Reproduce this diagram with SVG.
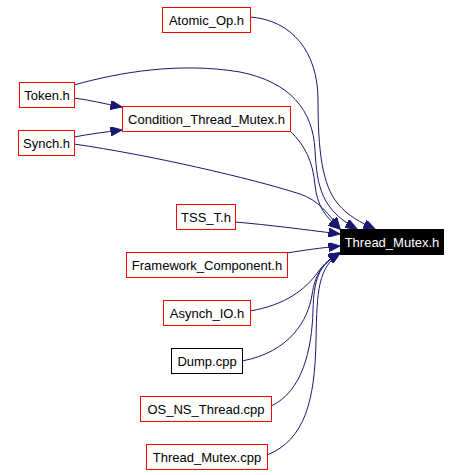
<svg xmlns="http://www.w3.org/2000/svg" width="462" height="475" viewBox="0 0 462 475">
<style>
.n rect{fill:#fff;stroke:#ff0000;stroke-width:1}
.n text{font-family:"Liberation Sans",Arial,sans-serif;font-size:13px;fill:#000;text-anchor:middle}
#n_dump rect{stroke:#000}
#n_root rect{fill:#000;stroke:#000}
#n_root text{fill:#fff}
#edges path{fill:none;stroke:#191970;stroke-width:1;marker-end:url(#ah)}
</style>
<defs>
<marker id="ah" markerUnits="userSpaceOnUse" viewBox="0 0 10 8" refX="10" refY="4" markerWidth="12" markerHeight="9" orient="auto">
<path d="M0,0 L10,4 L0,8 z" fill="#191970" stroke="#191970"/>
</marker>
</defs>
<rect width="462" height="475" fill="#fff"/>
<g id="edges">
<path d="M250,17 C292,20 318,52 318,100 C318,150 322,185 338,204 C348,216 360,222 375,229"/>
<path d="M74,85 C120,72 180,62 240,72 C290,82 313,110 315,150 C317,188 322,210 357,229"/>
<path d="M74,98 C90,100 105,104 122,107"/>
<path d="M74,137 C90,134 105,132 122,130"/>
<path d="M290,131 C305,145 313,162 315,185 C317,205 325,217 340,229"/>
<path d="M74,144 C150,155 250,178 300,194 C318,200 328,213 340,229"/>
<path d="M235,222 C270,225 300,229 340,234"/>
<path d="M287,253 C305,250 320,248 340,246"/>
<path d="M250,311 C285,305 305,290 318,272 C324,264 330,258 340,253"/>
<path d="M242,361 C290,352 308,320 312,295 C315,275 322,263 340,253"/>
<path d="M271,406 C302,392 312,350 313,310 C314,280 318,265 340,253"/>
<path d="M267,455 C305,440 315,400 316,340 C317,290 318,268 340,253"/>
</g>
<g id="n_atomic" class="n"><rect x="162.5" y="7.5" width="88" height="25"/><text x="206.5" y="24.5">Atomic_Op.h</text></g>
<g id="n_token" class="n"><rect x="19.5" y="82.5" width="55" height="25"/><text x="47" y="99.5">Token.h</text></g>
<g id="n_cond" class="n"><rect x="122.5" y="106.5" width="168" height="25"/><text x="206.5" y="123.5">Condition_Thread_Mutex.h</text></g>
<g id="n_synch" class="n"><rect x="18.5" y="130.5" width="56" height="25"/><text x="46.5" y="147.5">Synch.h</text></g>
<g id="n_root" class="n"><rect x="340.5" y="229.5" width="103" height="25"/><text x="392" y="246.5">Thread_Mutex.h</text></g>
<g id="n_tss" class="n"><rect x="176.5" y="204.5" width="59" height="25"/><text x="206" y="221.5">TSS_T.h</text></g>
<g id="n_fw" class="n"><rect x="126.5" y="252.5" width="161" height="25"/><text x="207" y="269.5">Framework_Component.h</text></g>
<g id="n_asynch" class="n"><rect x="163.5" y="300.5" width="87" height="25"/><text x="207" y="317.5">Asynch_IO.h</text></g>
<g id="n_dump" class="n"><rect x="171.5" y="348.5" width="71" height="25"/><text x="207" y="365.5">Dump.cpp</text></g>
<g id="n_osns" class="n"><rect x="140.5" y="396.5" width="131" height="25"/><text x="206" y="413.5">OS_NS_Thread.cpp</text></g>
<g id="n_tmcpp" class="n"><rect x="146.5" y="444.5" width="121" height="25"/><text x="207" y="461.5">Thread_Mutex.cpp</text></g>
</svg>
